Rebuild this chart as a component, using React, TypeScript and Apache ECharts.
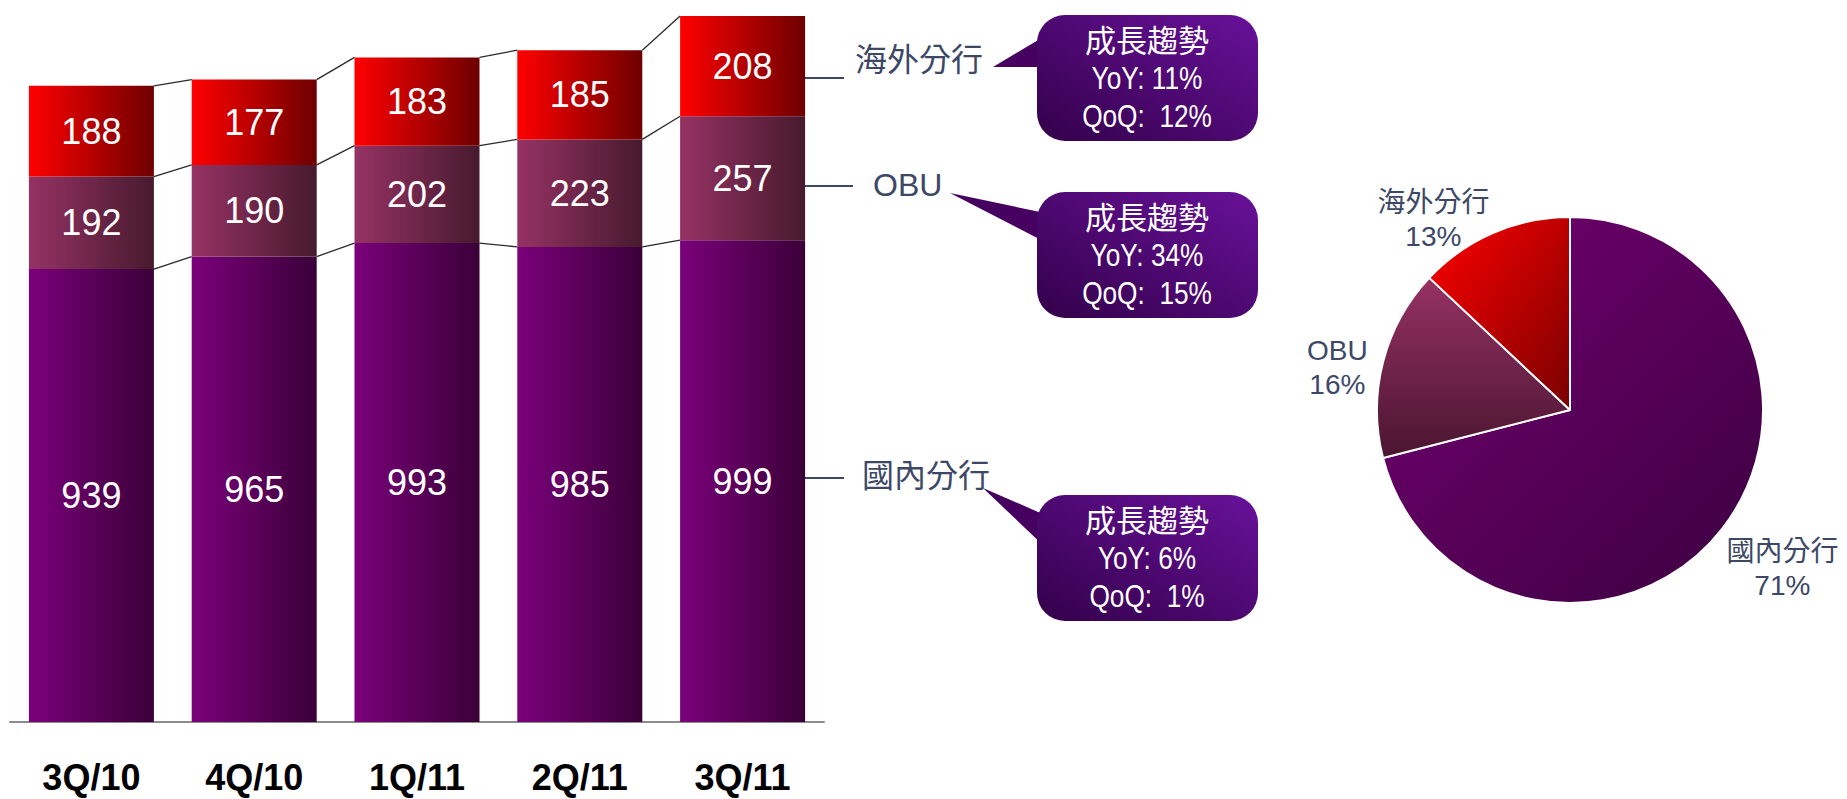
import React, { useEffect, useRef } from "react";
import * as echarts from "echarts";

const quarters = ["3Q/10", "4Q/10", "1Q/11", "2Q/11", "3Q/11"];
const domestic = [939, 965, 993, 985, 999];
const obu = [192, 190, 202, 223, 257];
const overseas = [188, 177, 183, 185, 208];

const pieNames = ["國內分行", "OBU", "海外分行"];
const pieShares = [71, 16, 13];

const seriesNames = ["海外分行", "OBU", "國內分行"];
const growthTitle = "成長趨勢";
const growthYoY = ["11%", "34%", "6%"];
const growthQoQ = ["12%", "15%", "1%"];

const LATIN = "'Liberation Sans', Arial, 'Noto Sans CJK TC', sans-serif";
const CJK = "'Liberation Sans', 'Noto Sans CJK TC', sans-serif";
const NAVY = "#3c4866";

const hGrad = (a: string, b: string) =>
  new echarts.graphic.LinearGradient(0, 0, 1, 0, [
    { offset: 0, color: a },
    { offset: 1, color: b },
  ]);

const BAR_W = 125;

export default function App() {
  const ref = useRef<HTMLDivElement>(null);

  useEffect(() => {
    if (!ref.current) return;
    const chart = echarts.init(ref.current, undefined, { renderer: "svg" });

    const lowMid = domestic.map((d, i) => d + obu[i]);
    const totals = domestic.map((d, i) => d + obu[i] + overseas[i]);
    const levels = [domestic, lowMid, totals];

    const barLabel = {
      show: true,
      position: "inside" as const,
      color: "#fff",
      fontSize: 36,
      fontFamily: LATIN,
    };

    // annotations (series names beside last bar)
    const annY = [
      { line: 78, text: 60, x: 855, len: 40 },
      { line: 186, text: 185, x: 873, len: 49 },
      { line: 478, text: 476, x: 862, len: 40 },
    ];
    const annotations: any[] = [];
    seriesNames.forEach((n, i) => {
      const a = annY[i];
      annotations.push({
        type: "line",
        shape: { x1: 804, y1: a.line, x2: 804 + a.len, y2: a.line },
        style: { stroke: NAVY, lineWidth: 2 },
      });
      annotations.push({
        type: "text",
        x: a.x,
        y: a.text,
        style: {
          text: n,
          fill: NAVY,
          font: `32px ${CJK}`,
          verticalAlign: "middle",
        },
      });
    });

    // growth bubbles
    const bubbleTops = [15, 192, 495];
    const tails = [
      [[993, 67], [1045, 36], [1045, 67]],
      [[950, 193], [1045, 213], [1045, 242]],
      [[983, 488], [1045, 515], [1045, 547]],
    ];
    const bubbles: any[] = [];
    bubbleTops.forEach((top, i) => {
      bubbles.push({
        type: "polygon",
        shape: { points: tails[i] },
        style: { fill: "#46005f" },
      });
      bubbles.push({
        type: "rect",
        shape: { x: 1037, y: top, width: 221, height: 126, r: 28 },
        style: {
          fill: new echarts.graphic.LinearGradient(0, 1, 1, 0, [
            { offset: 0, color: "#33004a" },
            { offset: 1, color: "#681199" },
          ]),
        },
      });
      const lines = [
        { t: growthTitle, dy: 26, f: `31px ${CJK}`, sx: 1 },
        { t: `YoY: ${growthYoY[i]}`, dy: 63, f: `32px ${LATIN}`, sx: 0.82 },
        { t: `QoQ:  ${growthQoQ[i]}`, dy: 101, f: `32px ${LATIN}`, sx: 0.82 },
      ];
      lines.forEach((l) =>
        bubbles.push({
          type: "text",
          x: 1147,
          y: top + l.dy,
          scaleX: l.sx,
          style: {
            text: l.t,
            fill: "#fff",
            font: l.f,
            align: "center",
            verticalAlign: "middle",
          },
        })
      );
    });

    const pieColors = [
      new echarts.graphic.LinearGradient(0, 0, 1, 1, [
        { offset: 0, color: "#760074" },
        { offset: 1, color: "#3a003f" },
      ]),
      new echarts.graphic.LinearGradient(0, 0, 0, 1, [
        { offset: 0, color: "#963264" },
        { offset: 1, color: "#4a1530" },
      ]),
      new echarts.graphic.LinearGradient(0, 0, 1, 1, [
        { offset: 0, color: "#ff0000" },
        { offset: 1, color: "#7a0000" },
      ]),
    ];
    const labelShift = [
      { dx: -18, dy: 34 },
      { dx: 34, dy: 8 },
      { dx: 14, dy: -4 },
    ];

    chart.setOption({
      animation: false,
      grid: { left: 10, top: 0, width: 814, height: 722, containLabel: false },
      xAxis: {
        type: "category",
        data: quarters,
        axisLine: { lineStyle: { color: "#8c8c8c", width: 2 } },
        axisTick: { show: false },
        axisLabel: {
          color: "#000",
          fontSize: 36,
          fontWeight: "bold",
          fontFamily: LATIN,
          lineHeight: 30,
          verticalAlign: "middle",
          margin: 55,
        },
      },
      yAxis: { type: "value", min: 0, max: 1497, show: false },
      series: [
        {
          name: "國內分行",
          type: "bar",
          stack: "t",
          barWidth: BAR_W,
          data: domestic,
          itemStyle: { color: hGrad("#7b007b", "#3a0038") },
          label: barLabel,
        },
        {
          name: "OBU",
          type: "bar",
          stack: "t",
          barWidth: BAR_W,
          data: obu,
          itemStyle: { color: hGrad("#963264", "#471a2e") },
          label: barLabel,
        },
        {
          name: "海外分行",
          type: "bar",
          stack: "t",
          barWidth: BAR_W,
          data: overseas,
          itemStyle: { color: hGrad("#ff0000", "#6e0000") },
          label: barLabel,
        },
        {
          type: "custom",
          silent: true,
          data: quarters.slice(0, quarters.length - 1).map((_, i) => [i, 0]),
          renderItem: (params: any, api: any) => {
            const i = params.dataIndex;
            const half = BAR_W / 2;
            const children = levels.map((arr) => {
              const p0 = api.coord([i, arr[i]]);
              const p1 = api.coord([i + 1, arr[i + 1]]);
              return {
                type: "line",
                shape: { x1: p0[0] + half, y1: p0[1], x2: p1[0] - half, y2: p1[1] },
                style: { stroke: "#2a2a2a", lineWidth: 1.3 },
              };
            });
            return { type: "group", children };
          },
        },
        {
          type: "pie",
          center: [1570, 410],
          radius: 193,
          startAngle: 90,
          clockwise: true,
          avoidLabelOverlap: false,
          data: pieNames.map((n, i) => ({
            name: n,
            value: pieShares[i],
            itemStyle: { color: pieColors[i] },
          })),
          itemStyle: { borderColor: "#fff", borderWidth: 2 },
          label: {
            show: true,
            position: "outside",
            color: NAVY,
            formatter: "{t|{b}}\n{t|{c}%}",
            rich: {
              t: {
                width: 130,
                align: "center",
                fontSize: 28,
                lineHeight: 34,
                color: NAVY,
                fontFamily: CJK,
              },
            },
          },
          labelLine: { show: false, length: 10, length2: 0 },
          labelLayout: (p: any) => labelShift[p.dataIndex],
        },
      ],
      graphic: [...annotations, ...bubbles],
    });

    return () => chart.dispose();
  }, []);

  return (
    <div
      ref={ref}
      style={{
        position: "fixed",
        left: 0,
        top: 0,
        width: 1847,
        height: 799,
        background: "#fff",
      }}
    />
  );
}
